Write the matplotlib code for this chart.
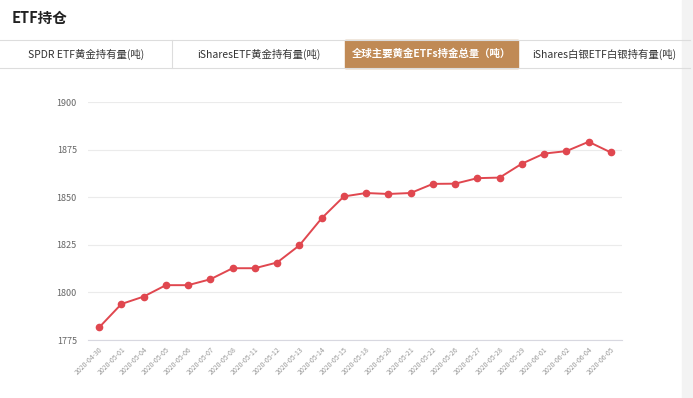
import matplotlib
matplotlib.use("Agg")
import matplotlib.pyplot as plt
from matplotlib.patches import Rectangle

plt.rcParams['font.family'] = ['Noto Sans CJK SC', 'DejaVu Sans']

dates = ["2020-04-30", "2020-05-01", "2020-05-04", "2020-05-05", "2020-05-06",
         "2020-05-07", "2020-05-08", "2020-05-11", "2020-05-12", "2020-05-13",
         "2020-05-14", "2020-05-15", "2020-05-18", "2020-05-20", "2020-05-21",
         "2020-05-22", "2020-05-26", "2020-05-27", "2020-05-28", "2020-05-29",
         "2020-06-01", "2020-06-02", "2020-06-04", "2020-06-05"]
holdings = [1781.6, 1793.9, 1797.8, 1803.8, 1803.8, 1806.9, 1812.7, 1812.7,
            1815.7, 1824.7, 1838.9, 1850.4, 1852.2, 1851.7, 1852.2, 1857.0,
            1857.1, 1860.0, 1860.3, 1867.6, 1872.9, 1874.2, 1879.1, 1873.5]
tabs = ["SPDR ETF黄金持有量(吨)", "iSharesETF黄金持有量(吨)",
        "全球主要黄金ETFs持金总量（吨）", "iShares白银ETF白银持有量(吨)"]
active_tab = 2
yticks = [1775, 1800, 1825, 1850, 1875, 1900]

W, H = 693, 398
fig = plt.figure(figsize=(W / 100, H / 100), dpi=100)
fig.patch.set_facecolor("white")

def fx(px):
    return px / W

def fy(py):
    return 1 - py / H

# header
fig.text(fx(12), fy(18), "ETF持仓", fontsize=10.5, fontweight="bold",
         color="#222222", va="center", ha="left")

# tab bar
tab_top, tab_bot = 40, 68
fig.add_artist(plt.Line2D([0, fx(690)], [fy(tab_top), fy(tab_top)],
                          color="#dddddd", lw=0.8))
fig.add_artist(plt.Line2D([0, fx(690)], [fy(tab_bot), fy(tab_bot)],
                          color="#dddddd", lw=0.8))
edges = [0, 172, 345, 518, 690]
for i, label in enumerate(tabs):
    x0, x1 = edges[i], edges[i + 1]
    if i == active_tab:
        fig.add_artist(Rectangle((fx(x0), fy(tab_bot)), fx(x1 - x0),
                                 (tab_bot - tab_top) / H, color="#c08a55",
                                 transform=fig.transFigure))
        fig.text(fx((x0 + x1) / 2), fy((tab_top + tab_bot) / 2), label,
                 fontsize=7.5, fontweight="bold", color="white",
                 ha="center", va="center")
    else:
        fig.text(fx((x0 + x1) / 2), fy((tab_top + tab_bot) / 2), label,
                 fontsize=7.5, color="#333333", ha="center", va="center")
    if 0 < x0 and i != active_tab and i - 1 != active_tab:
        fig.add_artist(plt.Line2D([fx(x0), fx(x0)], [fy(tab_top), fy(tab_bot)],
                                  color="#dddddd", lw=0.8))

# scrollbar strip on the right
fig.add_artist(Rectangle((fx(682), 0), fx(11), 1, color="#f3f3f3",
                         transform=fig.transFigure))

# chart
ax = fig.add_axes([fx(88), fy(340), fx(622 - 88), (340 - 102) / H])
x = list(range(len(dates)))
ax.plot(x, holdings, color="#e0474f", lw=1.4, marker="o", markersize=4.5,
        zorder=3)
ax.set_xlim(-0.5, len(dates) - 0.5)
ax.set_ylim(1775, 1900)
ax.set_yticks(yticks)
ax.set_xticks(x)
ax.set_xticklabels(dates, rotation=45, ha="right", rotation_mode="anchor",
                   fontsize=5, color="#999999")
ax.tick_params(axis="y", labelsize=6.5, colors="#666666", length=0, pad=8)
ax.tick_params(axis="x", length=0, pad=4)
ax.grid(axis="y", color="#ebebeb", lw=0.8)
for s in ["top", "right", "left"]:
    ax.spines[s].set_visible(False)
ax.spines["bottom"].set_color("#d8d8e0")
ax.spines["bottom"].set_linewidth(0.8)

fig.savefig("out.png", dpi=100)
